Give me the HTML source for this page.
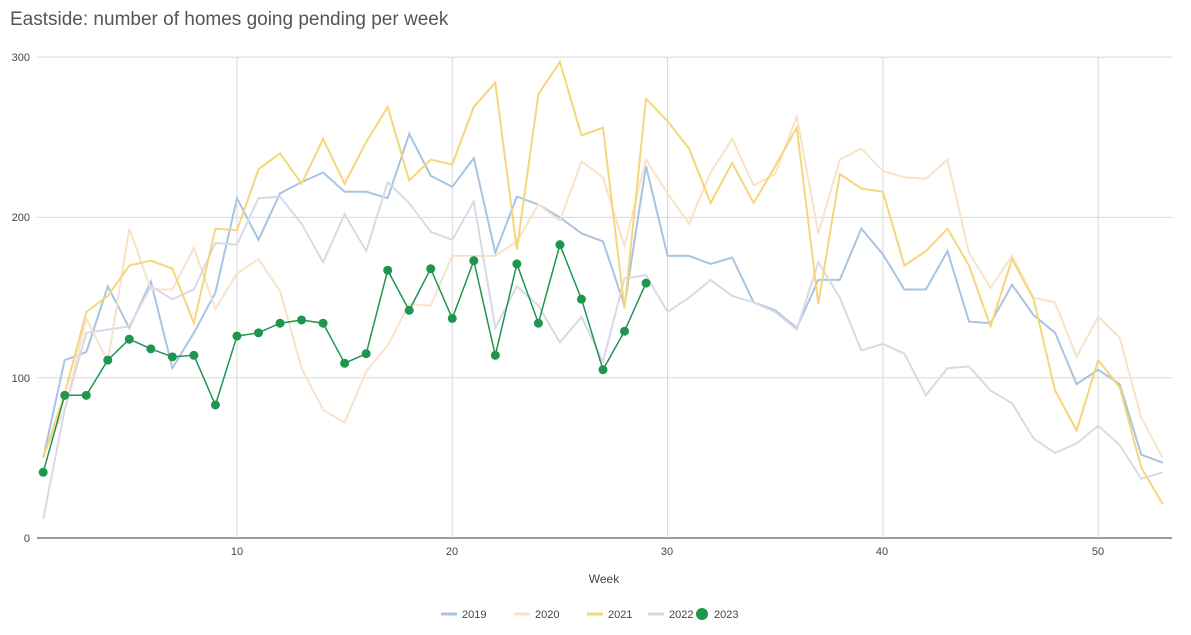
<!DOCTYPE html>
<html><head><meta charset="utf-8"><style>
body{margin:0;background:#fff;font-family:"Liberation Sans",Arial,sans-serif;}
</style></head><body>
<svg id="s" width="1191" height="630" xmlns="http://www.w3.org/2000/svg" font-family="Liberation Sans, Arial, sans-serif">
<rect width="1191" height="630" fill="#fff"/>
<text x="10" y="25" font-size="19" fill="#555">Eastside: number of homes going pending per week</text>
<g id="grid" stroke="#d8d8d8" stroke-width="1"></g>
<g font-size="11" fill="#444">
<text x="30" y="61" text-anchor="end">300</text>
<text x="30" y="221" text-anchor="end">200</text>
<text x="30" y="382" text-anchor="end">100</text>
<text x="30" y="542" text-anchor="end">0</text>
<text x="237" y="555" text-anchor="middle">10</text>
<text x="452" y="555" text-anchor="middle">20</text>
<text x="667" y="555" text-anchor="middle">30</text>
<text x="882" y="555" text-anchor="middle">40</text>
<text x="1098" y="555" text-anchor="middle">50</text>
<text x="604" y="583" text-anchor="middle" font-size="12">Week</text>
</g>
<g id="lines"></g>
<g font-size="11" fill="#444">
<line x1="441" y1="614" x2="457" y2="614" stroke="#a8c4e3" stroke-width="3"/><text x="462" y="618">2019</text>
<line x1="514" y1="614" x2="530" y2="614" stroke="#f8e3c8" stroke-width="3"/><text x="535" y="618">2020</text>
<line x1="587" y1="614" x2="603" y2="614" stroke="#f5d67a" stroke-width="3"/><text x="608" y="618">2021</text>
<line x1="648" y1="614" x2="664" y2="614" stroke="#d9d9e8" stroke-width="3"/><text x="669" y="618">2022</text>
<circle cx="702" cy="614" r="6" fill="#1e9650"/><text x="714" y="618">2023</text>
</g>
</svg>
<script>
var X=function(w){return 43.2+(w-1)*21.53;},Y=function(v){return 538-v*1.603;};
var g=document.getElementById('grid'),ns="http://www.w3.org/2000/svg";
function el(p,t,a){var e=document.createElementNS(ns,t);for(var k in a)e.setAttribute(k,a[k]);p.appendChild(e);return e;}
[0,100,200,300].forEach(function(v){el(g,'line',{x1:37,x2:1172,y1:Y(v),y2:Y(v),stroke:v==0?'#333':'#d8d8d8'});});
[10,20,30,40,50].forEach(function(w){el(g,'line',{x1:X(w),x2:X(w),y1:57,y2:538});});
var d={
"#a8c4e3":[50,111,116,157,131,160,106,128,153,212,186,215,222,228,216,216,212,252,226,219,237,178,213,208,200,190,185,145,232,176,176,171,175,147,142,131,161,161,193,177,155,155,179,135,134,158,139,128,96,105,96,52,47],
"#f8e3c8":[52,80,137,110,193,155,155,181,143,165,174,154,106,80,72,104,120,146,145,176,176,176,185,208,198,235,225,182,236,215,196,228,249,220,227,263,190,236,243,229,225,224,236,178,156,176,150,147,113,138,125,75,50],
"#d9d9e8":[12,80,128,130,132,157,149,155,184,183,212,213,196,172,202,179,222,209,191,186,210,131,157,145,122,138,110,162,164,141,150,161,151,147,141,130,172,150,117,121,115,89,106,107,92,84,62,53,59,70,58,37,41],
"#f5d67a":[50,90,141,151,170,173,168,134,193,192,230,240,221,249,221,247,269,223,236,233,269,284,180,277,297,251,256,143,274,260,243,209,234,209,232,256,146,227,218,216,170,179,193,170,132,174,149,92,67,111,94,44,21],
"#1e9650":[41,89,89,111,124,118,113,114,83,126,128,134,136,134,109,115,167,142,168,137,173,114,171,134,183,149,105,129,159]};
var L=document.getElementById('lines');
for(var c in d){var p=d[c].map(function(v,i){return X(i+1).toFixed(1)+','+Y(v).toFixed(1);}).join(' ');
el(L,'polyline',{points:p,fill:'none',stroke:c,'stroke-width':c=='#1e9650'?1.5:2});
if(c=='#1e9650')d[c].forEach(function(v,i){el(L,'circle',{cx:X(i+1),cy:Y(v),r:4.5,fill:c});});}
</script>
</body></html>
